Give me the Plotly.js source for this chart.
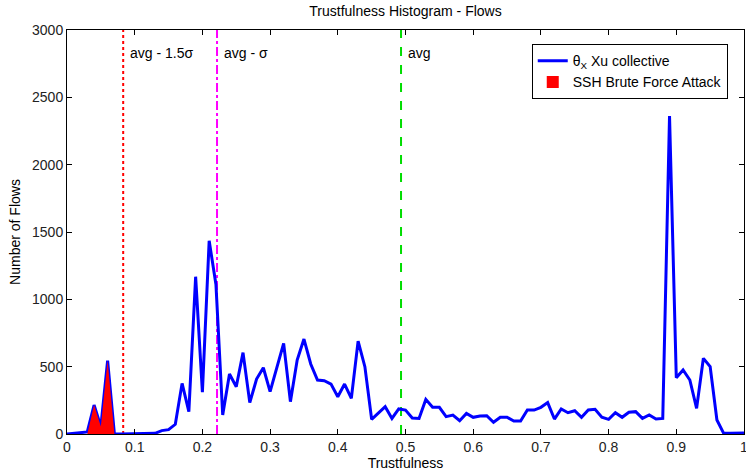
<!DOCTYPE html>
<html>
<head>
<meta charset="utf-8">
<script src="https://cdn.plot.ly/plotly-3.0.1.min.js"></script>
<style>html,body{margin:0;padding:0;background:#fff;}#chart{width:746px;height:476px;}</style>
</head>
<body>
<div id="chart"></div>
<script>
// Bin centres (trustfulness)
const trust = [0.00,0.01,0.02,0.03,0.04,0.05,0.06,0.07,0.08,0.09,
  0.10,0.11,0.12,0.13,0.14,0.15,0.16,0.17,0.18,0.19,
  0.20,0.21,0.22,0.23,0.24,0.25,0.26,0.27,0.28,0.29,
  0.30,0.31,0.32,0.33,0.34,0.35,0.36,0.37,0.38,0.39,
  0.40,0.41,0.42,0.43,0.44,0.45,0.46,0.47,0.48,0.49,
  0.50,0.51,0.52,0.53,0.54,0.55,0.56,0.57,0.58,0.59,
  0.60,0.61,0.62,0.63,0.64,0.65,0.66,0.67,0.68,0.69,
  0.70,0.71,0.72,0.73,0.74,0.75,0.76,0.77,0.78,0.79,
  0.80,0.81,0.82,0.83,0.84,0.85,0.86,0.87,0.88,0.89,
  0.90,0.91,0.92,0.93,0.94,0.95,0.96,0.97,0.98,0.99,1.00];
// θX Xu collective flows per bin
const xuCollective = [0,4,10,15,215,55,545,0,0,0,
  0,0,0,5,25,32,72,376,166,1168,
  310,1435,1110,141,445,351,604,233,408,492,
  314,488,673,240,549,705,520,401,396,371,
  277,371,265,690,500,109,153,203,116,186,
  178,119,116,257,198,198,129,141,99,153,
  124,134,136,87,124,124,96,96,178,178,
  198,233,111,186,158,173,124,178,183,124,
  109,158,124,161,166,116,141,111,116,2362,
  418,475,401,191,562,500,104,5,5,5,8];
// SSH Brute Force Attack flows (bins 0.03 - 0.07)
const sshTrust = [0.03,0.04,0.05,0.06,0.07];
const sshFlows = [0,215,55,545,0];
// Threshold markers
const thrValues = [0.083, 0.2216, 0.4934];
const thrLabels = ['avg - 1.5σ', 'avg - σ', 'avg'];
const thrColors = ['#ff0000', '#ff00ff', '#00dd00'];
const thrDash = ['dot', 'dashdot', 'dash'];
const yMax = 3000;
const xTicks = [0,0.1,0.2,0.3,0.4,0.5,0.6,0.7,0.8,0.9,1];
const xTickText = ['0','0.1','0.2','0.3','0.4','0.5','0.6','0.7','0.8','0.9','1'];
const yTicks = [0,500,1000,1500,2000,2500,3000];

const FONT = 'Liberation Sans, Arial, Helvetica, sans-serif';
const FS = 14;

const traces = [];
thrValues.forEach((v, i) => {
  traces.push({
    x: [v, v], y: [0, yMax], type: 'scatter', mode: 'lines',
    line: {color: thrColors[i], width: 2, dash: thrDash[i]},
    showlegend: false, hoverinfo: 'skip'
  });
});
traces.push({
  x: trust, y: xuCollective, type: 'scatter', mode: 'lines',
  line: {color: '#0000ff', width: 3},
  name: 'θ<sub>X</sub> Xu collective', legendrank: 1
});
traces.push({
  x: sshTrust, y: sshFlows, type: 'scatter', mode: 'none',
  fill: 'tozeroy', fillcolor: '#ff0000',
  name: 'SSH Brute Force Attack', showlegend: false, legendgroup: 'ssh'
});
// legend swatch (no marks drawn) for the filled SSH area
traces.push({
  x: [null], y: [null], type: 'bar',
  marker: {color: '#ff0000', line: {width: 0}},
  name: 'SSH Brute Force Attack', legendgroup: 'ssh', legendrank: 2
});

const annotations = thrValues.map((v, i) => ({
  x: v, y: 0.943, xref: 'x', yref: 'paper', text: thrLabels[i],
  showarrow: false, xanchor: 'left', yanchor: 'middle', xshift: 5,
  font: {family: FONT, size: FS, color: '#000'}
}));

const axisCommon = {
  showgrid: false, zeroline: false, showline: true, linecolor: '#000', linewidth: 1,
  mirror: 'allticks', ticks: 'inside', ticklen: 5, tickcolor: '#000', tickwidth: 1,
  ticklabeloverflow: 'allow',
  tickfont: {family: FONT, size: FS, color: '#222'}
};

const layout = {
  width: 746, height: 476,
  margin: {l: 67, r: 2, t: 30, b: 42},
  paper_bgcolor: '#fff', plot_bgcolor: '#fff',
  font: {family: FONT, size: FS, color: '#000'},
  title: {text: 'Trustfulness Histogram - Flows', xref: 'paper', x: 0.5, xanchor: 'center',
    yref: 'container', y: 0.976, yanchor: 'middle',
    font: {size: FS, color: '#000'}},
  xaxis: Object.assign({}, axisCommon, {
    range: [0, 1], tickvals: xTicks, ticktext: xTickText,
    title: {text: 'Trustfulness', standoff: 3, font: {size: FS, color: '#000'}}
  }),
  yaxis: Object.assign({}, axisCommon, {
    range: [0, yMax], tickvals: yTicks,
    title: {text: 'Number of Flows', standoff: 8, font: {size: FS, color: '#000'}}
  }),
  legend: {x: 0.976, y: 0.965, xanchor: 'right', yanchor: 'top',
    bordercolor: '#000', borderwidth: 1, bgcolor: '#fff', itemwidth: 30,
    font: {size: FS, color: '#000'}, tracegroupgap: 0},
  annotations: annotations,
  showlegend: true
};

Plotly.newPlot('chart', traces, layout, {staticPlot: true, displayModeBar: false});
</script>
</body>
</html>
